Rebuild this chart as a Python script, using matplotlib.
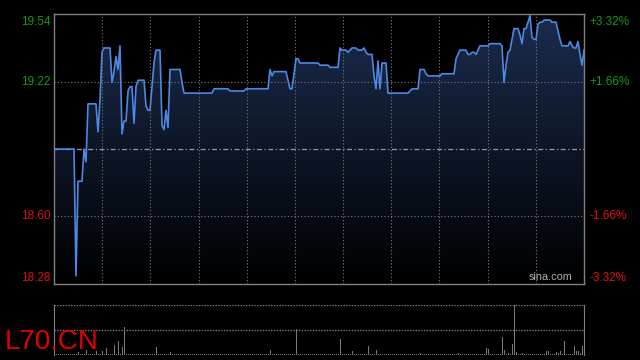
import numpy as np
import matplotlib.pyplot as plt
from matplotlib.colors import LinearSegmentedColormap
from matplotlib.transforms import blended_transform_factory

plt.rcParams['font.family'] = ['Liberation Sans', 'DejaVu Sans']

prev_close = 18.91

# intraday price, one value per time step
price = [
    18.91, 18.91, 18.91, 18.91, 18.91, 18.91, 18.91, 18.91, 18.91, 18.91, 18.91, 18.32, 18.76, 18.76, 18.76, 18.91, 18.85, 19.12, 19.12, 19.12,
    19.12, 19.12, 18.99, 19.14, 19.36, 19.38, 19.38, 19.38, 19.38, 19.22, 19.27, 19.34, 19.28, 19.39, 18.98, 19.04, 19.04, 19.18, 19.20, 19.20,
    19.03, 19.20, 19.23, 19.23, 19.23, 19.23, 19.11, 19.09, 19.09, 19.20, 19.31, 19.37, 19.37, 19.37, 19.02, 19.00, 19.09, 19.01, 19.28, 19.28,
    19.28, 19.28, 19.28, 19.28, 19.22, 19.17, 19.17, 19.17, 19.17, 19.17, 19.17, 19.17, 19.17, 19.17, 19.17, 19.17, 19.17, 19.17, 19.17, 19.17,
    19.19, 19.19, 19.19, 19.19, 19.19, 19.19, 19.19, 19.19, 19.18, 19.18, 19.18, 19.18, 19.18, 19.18, 19.18, 19.18, 19.19, 19.19, 19.19, 19.19,
    19.19, 19.19, 19.19, 19.19, 19.19, 19.19, 19.19, 19.19, 19.28, 19.25, 19.27, 19.27, 19.27, 19.27, 19.27, 19.27, 19.27, 19.23, 19.19, 19.19,
    19.26, 19.33, 19.33, 19.31, 19.31, 19.31, 19.31, 19.31, 19.31, 19.31, 19.31, 19.31, 19.31, 19.30, 19.30, 19.30, 19.30, 19.30, 19.29, 19.29,
    19.29, 19.29, 19.29, 19.38, 19.37, 19.37, 19.37, 19.36, 19.37, 19.38, 19.38, 19.38, 19.37, 19.37, 19.37, 19.38, 19.36, 19.35, 19.35, 19.35,
    19.25, 19.19, 19.32, 19.19, 19.31, 19.31, 19.31, 19.17, 19.17, 19.17, 19.17, 19.17, 19.17, 19.17, 19.17, 19.17, 19.17, 19.17, 19.18, 19.19,
    19.19, 19.19, 19.19, 19.28, 19.28, 19.28, 19.26, 19.25, 19.25, 19.25, 19.25, 19.25, 19.25, 19.25, 19.26, 19.26, 19.26, 19.26, 19.26, 19.26,
    19.26, 19.33, 19.35, 19.37, 19.37, 19.37, 19.37, 19.35, 19.35, 19.36, 19.36, 19.35, 19.37, 19.39, 19.39, 19.39, 19.39, 19.39, 19.40, 19.40,
    19.40, 19.40, 19.40, 19.40, 19.39, 19.22, 19.30, 19.36, 19.37, 19.42, 19.47, 19.47, 19.47, 19.44, 19.40, 19.47, 19.47, 19.50, 19.53, 19.43,
    19.42, 19.42, 19.49, 19.50, 19.50, 19.51, 19.51, 19.51, 19.51, 19.50, 19.50, 19.50, 19.46, 19.42, 19.39, 19.39, 19.39, 19.39, 19.41, 19.39,
    19.38, 19.38, 19.41, 19.35, 19.30, 19.37,
]

# volume (hundreds of shares)
volume = [
    1, 1, 1, 1, 1, 1, 1, 1, 1, 1, 1, 1, 3, 1, 1, 1, 5, 1, 1, 1,
    1, 4, 1, 1, 4, 1, 7, 1, 1, 1, 10, 1, 14, 1, 8, 28, 1, 1, 1, 1,
    1, 1, 1, 1, 1, 1, 1, 1, 1, 1, 1, 8, 1, 1, 1, 1, 1, 1, 3, 1,
    1, 1, 1, 1, 1, 1, 1, 1, 1, 1, 1, 1, 1, 1, 1, 1, 1, 1, 1, 1,
    1, 1, 1, 1, 1, 1, 1, 1, 1, 1, 1, 1, 1, 1, 1, 1, 1, 1, 1, 1,
    1, 1, 1, 1, 1, 1, 1, 1, 5, 1, 1, 1, 1, 1, 1, 1, 1, 1, 1, 1,
    1, 26, 1, 1, 1, 1, 1, 1, 1, 1, 1, 1, 1, 1, 1, 1, 1, 1, 1, 1,
    1, 1, 1, 16, 1, 1, 1, 1, 1, 4, 1, 1, 1, 1, 1, 1, 1, 9, 1, 1,
    1, 5, 1, 1, 1, 1, 1, 1, 1, 1, 1, 1, 1, 1, 1, 1, 1, 1, 1, 1,
    1, 1, 1, 2, 1, 1, 1, 1, 1, 1, 1, 1, 1, 1, 1, 1, 1, 1, 1, 1,
    1, 1, 2, 1, 1, 1, 1, 1, 1, 1, 1, 1, 1, 1, 1, 1, 7, 6, 1, 1,
    1, 1, 1, 1, 18, 5, 1, 2, 1, 11, 50, 3, 1, 1, 2, 1, 1, 1, 1, 1,
    1, 1, 1, 1, 1, 1, 4, 4, 1, 1, 1, 3, 2, 4, 1, 14, 1, 1, 1, 1,
    9, 4, 4, 2, 9, 6,
]

price_ticks = [19.54, 19.22, 18.60, 18.28]
price_labels = ['19.54', '19.22', '18.60', '18.28']
pct_labels = ['+3.32%', '+1.66%', '-1.66%', '-3.32%']
label_colors = ['#129c12', '#129c12', '#e01010', '#e01010']

n = len(price)
x = np.arange(n)
ylo, yhi = 18.282, 19.538

fig = plt.figure(figsize=(6.4, 3.6), dpi=100, facecolor='black')
ax = fig.add_axes([54 / 640, 1 - 284 / 360, 530 / 640, 270 / 360], facecolor='black')
axv = fig.add_axes([54 / 640, 1 - 355 / 360, 530 / 640, 50 / 360], facecolor='black')

# gradient fill under the price line
grad = np.linspace(1, 0, 256).reshape(-1, 1)
cmap = LinearSegmentedColormap.from_list('fill', ['#000000', '#1b2c4e'])
im = ax.imshow(grad, extent=[0, n - 1, ylo, yhi], aspect='auto', cmap=cmap,
               origin='upper', zorder=1)
poly = ax.fill_between(x, price, ylo, facecolor='none', edgecolor='none')
im.set_clip_path(poly.get_paths()[0], transform=ax.transData)

ax.plot(x, price, color='#4d88e2', lw=1.2, zorder=3)

# grid
for k in range(1, 11):
    ax.axvline(k * (n - 1) / 11, color='#7a7a7a', ls=(0, (1, 2)), lw=0.8, zorder=2)
for p in [prev_close * 1.0166, prev_close * 0.9834]:
    ax.axhline(p, color='#7a7a7a', ls=(0, (1, 2)), lw=0.8, zorder=2)
ax.axhline(prev_close, color='#9a9a9a', ls=(0, (4, 2, 1, 2)), lw=0.9, zorder=2)

ax.set_xlim(0, n - 1)
ax.set_ylim(ylo, yhi)
ax.set_xticks([])
ax.set_yticks([])
for s in ax.spines.values():
    s.set_color('#808080')
    s.set_linewidth(1)

tr = blended_transform_factory(ax.transAxes, ax.transData)
offsets = [-1.5, 0, 0, 0]
for i, (val, lab, plab, col) in enumerate(zip(price_ticks, price_labels, pct_labels, label_colors)):
    y = min(max(val, ylo), yhi)
    va = 'top' if i == 0 else ('bottom' if i == len(price_ticks) - 1 else 'center')
    ax.annotate(lab, (-0.006, y), xycoords=tr, xytext=(0, offsets[i]), textcoords='offset points',
                ha='right', va=va, color=col, fontsize=8.5)
    ax.annotate(plab, (1.011, y), xycoords=tr, xytext=(0, offsets[i]), textcoords='offset points',
                ha='left', va=va, color=col, fontsize=8.5)

ax.text(0.979, 0.006, 'sina.com', transform=ax.transAxes, ha='right', va='bottom',
        color='#b0b0b0', fontsize=7.8, zorder=4)

# volume panel
axv.bar(x, volume, width=0.5, color='#7a7a7a')
axv.set_xlim(0, n - 1)
axv.set_ylim(0, 50)
axv.axhline(50, color='#7a7a7a', ls=(0, (1, 1)), lw=1)
axv.axhline(25, color='#7a7a7a', ls=(0, (1, 1)), lw=1)
axv.set_xticks([])
axv.set_yticks([])
for side in ['top', 'bottom']:
    axv.spines[side].set_visible(False)
for side in ['left', 'right']:
    axv.spines[side].set_color('#808080')

fig.text(5 / 640, 1 - 349 / 360, 'L70.CN', color='#e00000', fontsize=20,
         ha='left', va='baseline')

fig.savefig('out.png', dpi=100, facecolor='black')
